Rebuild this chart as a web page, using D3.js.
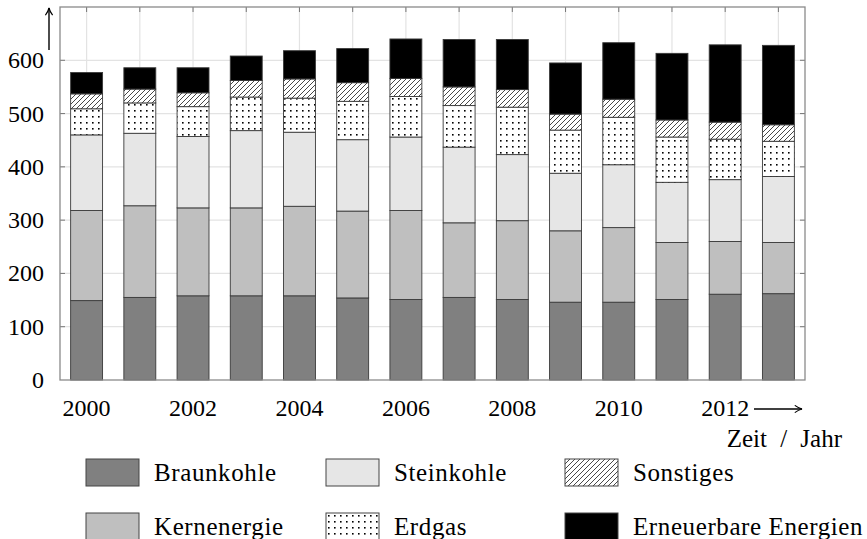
<!DOCTYPE html>
<html><head><meta charset="utf-8">
<script src="https://cdn.jsdelivr.net/npm/d3@7/dist/d3.min.js"></script>
<style>body{margin:0;background:#fff}svg text{font-family:"Liberation Serif","DejaVu Serif",serif;fill:#000}</style>
</head><body><svg id="c" width="867" height="539"></svg>
<script>
const years = [2000,2001,2002,2003,2004,2005,2006,2007,2008,2009,2010,2011,2012,2013];
const braunkohle  = [149,155,158,158,158,154,151,155,151,146,146,151,161,162];
const kernenergie = [169,172,165,165,168,163,167,140,148,134,140,107,99,96];
const steinkohle  = [142,136,134,145,139,134,138,142,124,108,118,113,116,124];
const erdgas      = [49,57,56,63,64,72,76,78,89,81,89,85,76,66];
const sonstiges   = [28,26,26,31,36,35,34,35,33,30,34,32,32,31];
const erneuerbare = [40,40,47,46,53,64,74,89,94,96,106,125,145,149];
const seriesNames = ["Braunkohle","Kernenergie","Steinkohle","Erdgas","Sonstiges","Erneuerbare Energien"];
const xTickLabels = [2000,2002,2004,2006,2008,2010,2012];
const yTickLabels = [0,100,200,300,400,500,600];

const svg = d3.select("#c");
const defs = svg.append("defs");
const dots = defs.append("pattern").attr("id","dots").attr("patternUnits","userSpaceOnUse").attr("width",6).attr("height",6);
dots.append("rect").attr("width",6).attr("height",6).attr("fill","#fff");
dots.append("rect").attr("x",2).attr("y",2).attr("width",1.6).attr("height",1.6).attr("fill","#000");
const hatch = defs.append("pattern").attr("id","hatch").attr("patternUnits","userSpaceOnUse").attr("width",5).attr("height",5);
hatch.append("rect").attr("width",5).attr("height",5).attr("fill","#fff");
hatch.append("path").attr("d","M-1,6 L6,-1 M-1,1 L1,-1 M4,6 L6,4").attr("stroke","#333").attr("stroke-width",0.9);
const arrow = defs.append("marker").attr("id","arr").attr("viewBox","0 0 10 10").attr("refX",9).attr("refY",5)
  .attr("markerWidth",9).attr("markerHeight",9).attr("markerUnits","userSpaceOnUse").attr("orient","auto");
arrow.append("path").attr("d","M1,1 Q5,4 9,5 Q5,6 1,9").attr("fill","none").attr("stroke","#000").attr("stroke-width",1.3);

const fills = ["#808080","#bfbfbf","#e6e6e6","url(#dots)","url(#hatch)","#000"];
const L=60,R=805,T=7,B=380;
const x = d3.scaleLinear().domain([1999.5,2013.5]).range([L,R]);
const y = d3.scaleLinear().domain([0,700]).range([B,T]);

// grid
const g = svg.append("g");
g.selectAll(".gy").data(yTickLabels.filter(d=>d>0)).join("line")
  .attr("x1",L).attr("x2",R).attr("y1",d=>y(d)).attr("y2",d=>y(d)).attr("stroke","#e3e3e3").attr("stroke-width",1.2);
g.selectAll(".gx").data(years).join("line")
  .attr("x1",d=>x(d)).attr("x2",d=>x(d)).attr("y1",T).attr("y2",B).attr("stroke","#e3e3e3").attr("stroke-width",1.2);
// ticks inside
g.selectAll(".tt").data(years).join("line")
  .attr("x1",d=>x(d)).attr("x2",d=>x(d)).attr("y1",T).attr("y2",T+5).attr("stroke","#777");
g.selectAll(".tl").data(yTickLabels.filter(d=>d>0)).join("line")
  .attr("x1",L).attr("x2",L+5).attr("y1",d=>y(d)).attr("y2",d=>y(d)).attr("stroke","#777");
g.selectAll(".tr").data(yTickLabels.filter(d=>d>0)).join("line")
  .attr("x1",R-5).attr("x2",R).attr("y1",d=>y(d)).attr("y2",d=>y(d)).attr("stroke","#777");

// bars
const seriesVals = [braunkohle,kernenergie,steinkohle,erdgas,sonstiges,erneuerbare];
const table = years.map((yr,i)=>{const o={year:yr}; seriesNames.forEach((n,k)=>o[n]=seriesVals[k][i]); return o;});
const stack = d3.stack().keys(seriesNames)(table);
const bw = x(2000.3)-x(2000);
stack.forEach((s,k)=>{
  svg.append("g").selectAll("rect").data(s).join("rect")
    .attr("x",d=>x(d.data.year)-bw).attr("width",2*bw)
    .attr("y",d=>y(d[1])).attr("height",d=>y(d[0])-y(d[1]))
    .attr("fill",fills[k]).attr("stroke","#3a3a3a").attr("stroke-width",0.9);
});

// frame
svg.append("rect").attr("x",L).attr("y",T).attr("width",R-L).attr("height",B-T)
  .attr("fill","none").attr("stroke","#8a8a8a").attr("stroke-width",1.3);

// axis labels
svg.append("g").selectAll("text").data(yTickLabels).join("text")
  .attr("x",44).attr("y",d=>y(d)+8).attr("text-anchor","end").attr("font-size",24).text(d=>d);
svg.append("g").selectAll("text").data(xTickLabels).join("text")
  .attr("x",d=>x(d)).attr("y",416).attr("text-anchor","middle").attr("font-size",24).text(d=>d);

// arrows
svg.append("line").attr("x1",49).attr("x2",49).attr("y1",50).attr("y2",8).attr("stroke","#000").attr("stroke-width",1.4).attr("marker-end","url(#arr)");
svg.append("line").attr("x1",754).attr("x2",802).attr("y1",409).attr("y2",409).attr("stroke","#000").attr("stroke-width",1.4).attr("marker-end","url(#arr)");
svg.append("text").attr("x",842).attr("y",447).attr("text-anchor","end").attr("font-size",25).attr("word-spacing",7).text("Zeit / Jahr");

// legend
const legPos = [[86,459],[86,513],[326,459],[326,513],[565,459],[565,513]];
const lg = svg.append("g").selectAll("g").data(seriesNames).join("g")
  .attr("transform",(d,i)=>`translate(${legPos[i][0]},${legPos[i][1]})`);
lg.append("rect").attr("width",53).attr("height",27).attr("fill",(d,i)=>fills[i]).attr("stroke","#444").attr("stroke-width",1);
lg.append("text").attr("x",68).attr("y",22).attr("font-size",25).attr("letter-spacing",0.6).text(d=>d);
</script></body></html>
